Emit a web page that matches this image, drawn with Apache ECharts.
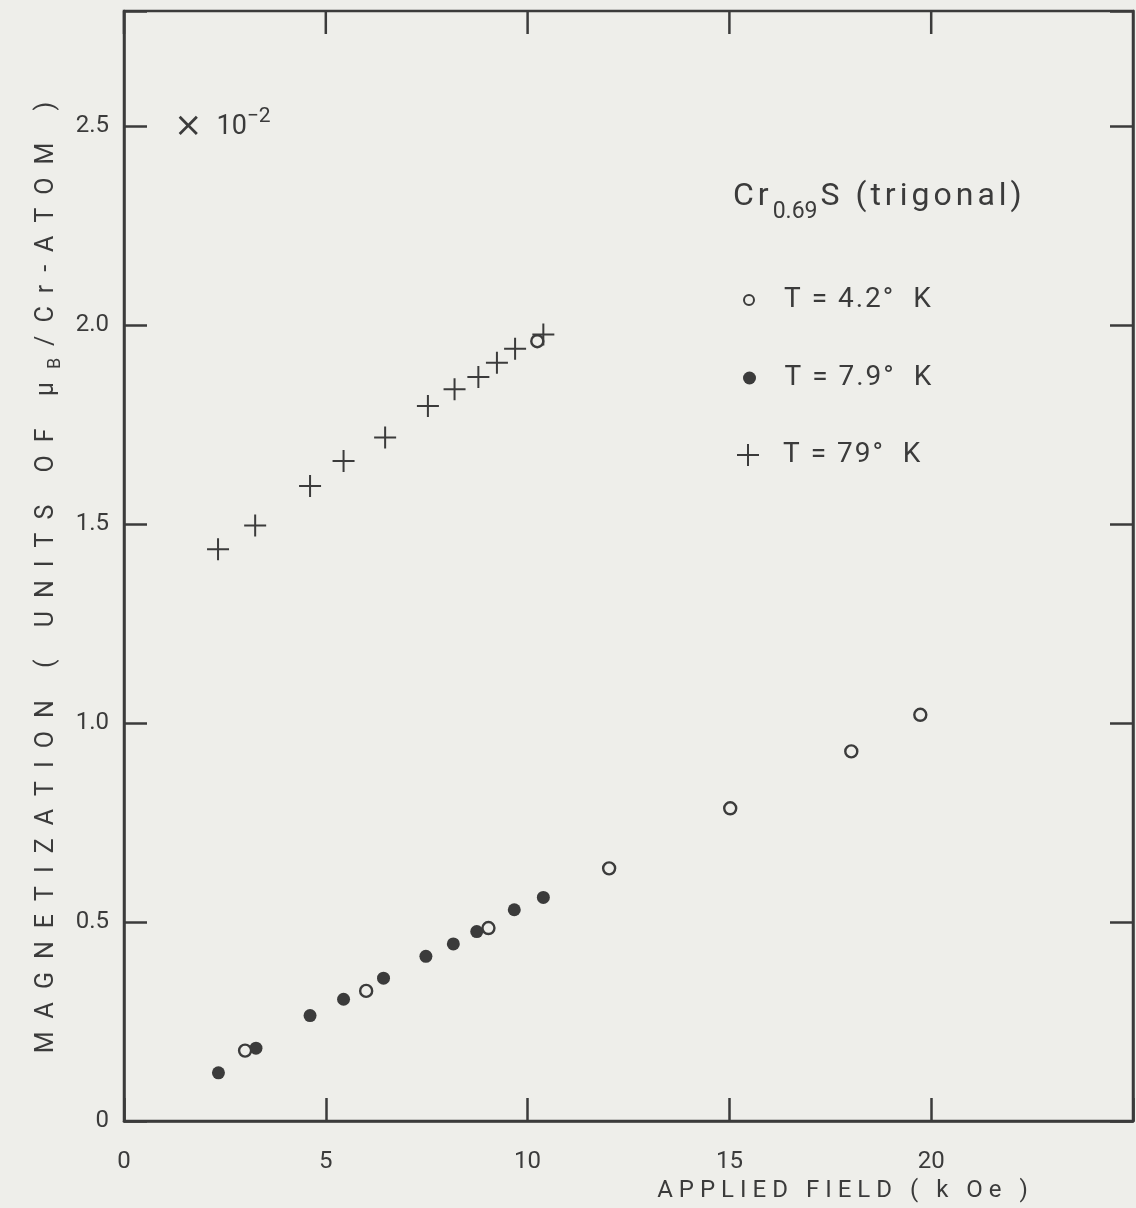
<!DOCTYPE html>
<html>
<head>
<meta charset="utf-8">
<title>Cr0.69S magnetization</title>
<script src="https://cdn.jsdelivr.net/npm/echarts@6/dist/echarts.min.js"></script>
<style>
  html, body { margin: 0; padding: 0; background: #eeeeea; }
  #chart { width: 1136px; height: 1208px; }
</style>
</head>
<body>
<div id="chart"></div>
<script>
// Magnetization of trigonal Cr0.69S versus applied field (kOe), units of 1e-2 μB per Cr atom
const seriesNames = ['T = 4.2°  K', 'T = 7.9°  K', 'T = 79°  K'];

// T = 4.2 K (open circles): [field kOe, magnetization]
const dataT42 = [
  [3.00, 0.177], [6.00, 0.327], [9.03, 0.485], [10.24, 1.960],
  [12.02, 0.635], [15.02, 0.786], [18.02, 0.929], [19.73, 1.021]
];
// T = 7.9 K (filled circles)
const dataT79 = [
  [2.34, 0.121], [3.27, 0.183], [4.61, 0.265], [5.44, 0.306], [6.43, 0.359],
  [7.48, 0.414], [8.16, 0.445], [8.74, 0.476], [9.67, 0.531], [10.39, 0.562]
];
// T = 79 K (crosses)
const dataT79K = [
  [2.33, 1.437], [3.25, 1.497], [4.61, 1.596], [5.44, 1.659], [6.47, 1.718],
  [7.53, 1.797], [8.19, 1.839], [8.78, 1.870], [9.24, 1.906], [9.69, 1.941],
  [10.39, 1.977]
];

const xTicks = [0, 5, 10, 15, 20];
const yTicks = [0, 0.5, 1.0, 1.5, 2.0, 2.5];
const X_MAX = 25;
const Y_MAX = 2.79;

const INK = '#3b3b3b';
const PAPER = '#eeeeea';
const FONT = 'Roboto, "DejaVu Sans", sans-serif';
const PLUS = 'path://M10,0H12V10H22V12H12V22H10V12H0V10H10Z';
const TICK_LEN = 23;

// wrap every character in a rich token so the lettering gets extra tracking
function spaced(text, style) {
  return Array.from(text).map(function (ch) { return '{' + style + '|' + ch + '}'; }).join('');
}

const yTitle = spaced('MAGNETIZATION ( UNITS OF μ', 't') + '{sub|B}' + spaced('/Cr-ATOM )', 't');
const xTitle = spaced('APPLIED FIELD ( k Oe )', 't');

function legendFor(name, left, top, icon, h, style) {
  return {
    data: [{ name: name, icon: icon }],
    left: left, top: top, orient: 'vertical',
    itemWidth: 60, itemHeight: h,
    selectedMode: false,
    itemStyle: style,
    textStyle: { color: INK, fontFamily: FONT, fontSize: 28, rich: { t: { fontSize: 28, color: INK, fontFamily: FONT, padding: [0, 2, 0, 0] } } },
    formatter: function (n) { return spaced(n, 't'); }
  };
}

function frameLine() { return { show: true, onZero: false, lineStyle: { color: INK, width: 2.5 } }; }
function inwardTicks() { return { show: true, inside: true, length: TICK_LEN, lineStyle: { color: INK, width: 2.5 } }; }

const chart = echarts.init(document.getElementById('chart'), null, { renderer: 'canvas' });

chart.setOption({
  backgroundColor: PAPER,
  animation: false,
  // the grid border closes the frame on all four sides
  grid: { left: 124, right: 3, top: 11, bottom: 86, show: true, borderColor: INK, borderWidth: 2.5, backgroundColor: 'transparent' },
  xAxis: {
    type: 'value', min: 0, max: X_MAX, interval: 5, position: 'bottom',
    axisLine: frameLine(), axisTick: inwardTicks(), splitLine: { show: false },
    axisLabel: {
      color: INK, fontFamily: FONT, fontSize: 24, margin: 29,
      formatter: function (v) { return xTicks.indexOf(v) >= 0 ? String(v) : ''; }
    },
    name: xTitle, nameLocation: 'middle', nameGap: 58,
    nameTextStyle: {
      padding: [0, 0, 0, 434],
      rich: { t: { fontSize: 24, color: INK, fontFamily: FONT, padding: [0, 6, 0, 0] } }
    }
  },
  yAxis: [
    {
      type: 'value', min: 0, max: Y_MAX, interval: 0.5, position: 'left',
      axisLine: frameLine(), axisTick: inwardTicks(), splitLine: { show: false },
      axisLabel: {
        color: INK, fontFamily: FONT, fontSize: 24, margin: 15,
        formatter: function (v) {
          const hit = yTicks.find(function (t) { return Math.abs(t - v) < 1e-6; });
          if (hit === undefined) return '';
          return hit === 0 ? '0' : hit.toFixed(1);
        }
      },
      name: yTitle, nameLocation: 'middle', nameGap: 60,
      nameTextStyle: {
        padding: [0, 10, 0, 0],
        rich: {
          t: { fontSize: 25, color: INK, fontFamily: FONT, lineHeight: 35, padding: [0, 13, 0, 0] },
          sub: { fontSize: 18, color: INK, fontFamily: FONT, verticalAlign: 'bottom', padding: [0, 12, 0, 0] }
        }
      }
    },
    {
      // tick column on the right edge of the frame
      type: 'value', min: 0, max: Y_MAX, interval: 0.5, position: 'right',
      axisLine: frameLine(), axisTick: inwardTicks(), axisLabel: { show: false }, splitLine: { show: false }
    }
  ],
  legend: [
    legendFor(seriesNames[0], 738, 281, 'circle', 10, { color: PAPER, borderColor: INK, borderWidth: 2 }),
    legendFor(seriesNames[1], 738, 359, 'circle', 13, { color: INK, borderWidth: 0 }),
    legendFor(seriesNames[2], 732, 436, PLUS, 22, { color: INK, borderWidth: 0 })
  ],
  graphic: [
    {
      type: 'text', left: 733, top: 181, z: 10,
      style: {
        text: spaced('Cr', 'a') + '{sub|0.69}' + spaced('S (trigonal)', 'a'),
        rich: {
          a: { fontSize: 32, fill: INK, fontFamily: FONT, lineHeight: 54, padding: [0, 4, 0, 0] },
          sub: { fontSize: 23, fill: INK, fontFamily: FONT, verticalAlign: 'bottom', padding: [0, 3, 0, 0] }
        }
      }
    },
    {
      type: 'text', left: 174, top: 106, z: 10,
      style: {
        text: '{x|×}{a|10}{sup|−2}',
        rich: {
          x: { fontSize: 34, fill: INK, fontFamily: '"DejaVu Sans"', fontWeight: 'normal', lineHeight: 42, padding: [0, 14, 0, 0] },
          a: { fontSize: 27, fill: INK, fontFamily: FONT, lineHeight: 42 },
          sup: { fontSize: 21, fill: INK, fontFamily: FONT, verticalAlign: 'top' }
        }
      }
    }
  ],
  series: [
    {
      // tick marks hanging down from the top edge, placed through the axis scales
      type: 'custom', silent: true, clip: false, z: 1,
      data: xTicks.map(function (v) { return [v, Y_MAX]; }),
      encode: { x: 0, y: 1 },
      renderItem: function (params, api) {
        const p = api.coord([api.value(0), api.value(1)]);
        return {
          type: 'line',
          shape: { x1: p[0], y1: p[1], x2: p[0], y2: p[1] + TICK_LEN },
          style: { stroke: INK, lineWidth: 2.5 }
        };
      }
    },
    {
      name: seriesNames[1], type: 'scatter', data: dataT79, z: 2,
      symbol: 'circle', symbolSize: 13,
      itemStyle: { color: INK, opacity: 1 }
    },
    {
      name: seriesNames[0], type: 'scatter', data: dataT42, z: 3,
      symbol: 'circle', symbolSize: 12,
      itemStyle: { color: PAPER, borderColor: INK, borderWidth: 2.4, opacity: 1 }
    },
    {
      name: seriesNames[2], type: 'scatter', data: dataT79K, z: 4,
      symbol: PLUS, symbolSize: 22,
      itemStyle: { color: INK, opacity: 1 }
    }
  ]
});
</script>
</body>
</html>
